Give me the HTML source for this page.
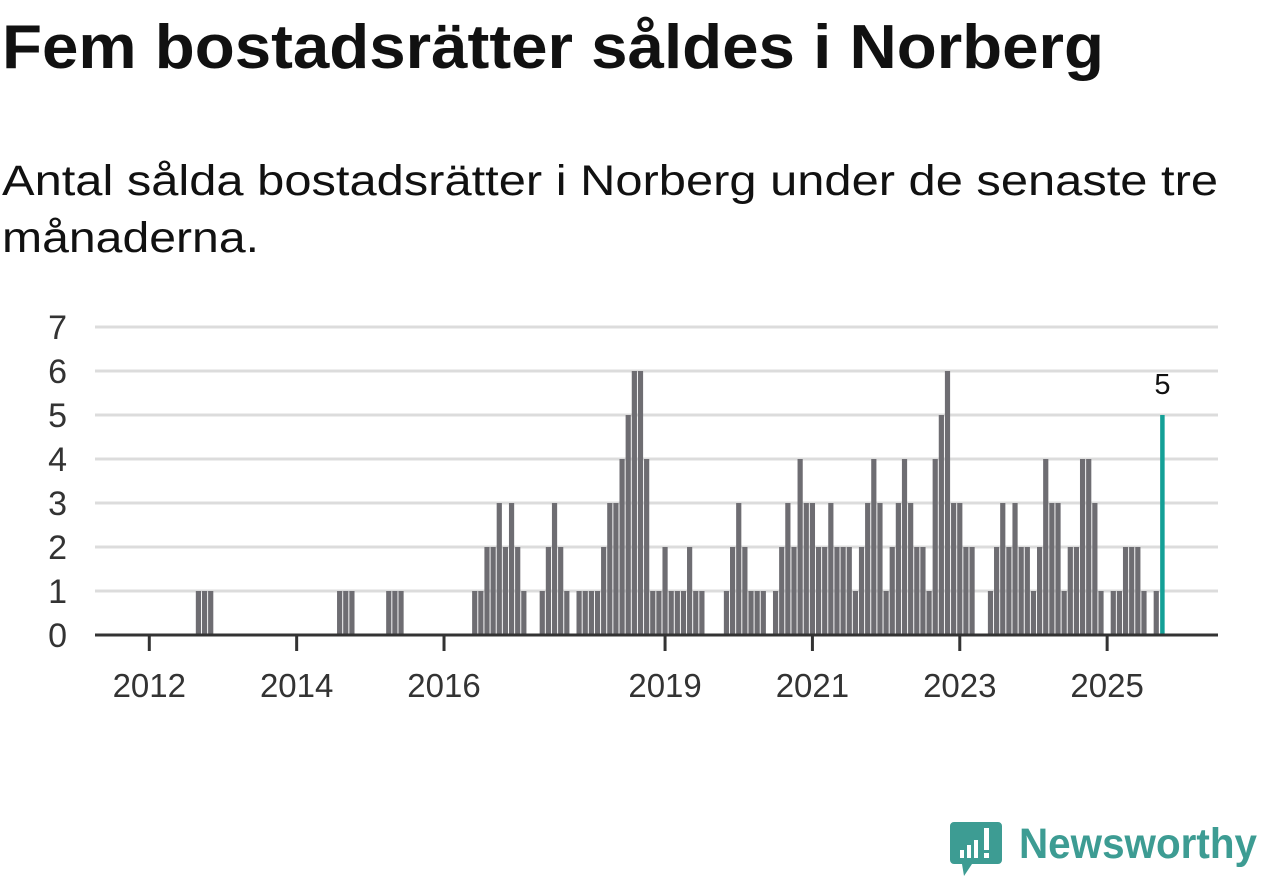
<!DOCTYPE html>
<html><head><meta charset="utf-8"><style>
html,body{margin:0;padding:0;background:#fff;width:1262px;height:879px;overflow:hidden}
svg{display:block;font-family:"Liberation Sans",sans-serif}
</style></head><body>
<svg id="chart" width="1262" height="879">
<text x="2" y="68" font-size="62" font-weight="bold" fill="#111" textLength="1102" lengthAdjust="spacingAndGlyphs">Fem bostadsrätter såldes i Norberg</text>
<text x="2" y="195" font-size="43" fill="#111" textLength="1216" lengthAdjust="spacingAndGlyphs">Antal sålda bostadsrätter i Norberg under de senaste tre</text>
<text x="2" y="252" font-size="43" fill="#111" textLength="257" lengthAdjust="spacingAndGlyphs">månaderna.</text>
<g id="grid"></g><g id="bars"></g><g id="axis"></g>
<g>
<path d="M954 822 h44 a4 4 0 0 1 4 4 v34 a4 4 0 0 1 -4 4 h-26 l-8 12 l-2 -12 h-8 a4 4 0 0 1 -4 -4 v-34 a4 4 0 0 1 4 -4z" fill="#3d9c93"/>
<rect x="960" y="850" width="4" height="8" fill="#fff"/><rect x="967" y="845" width="4" height="13" fill="#fff"/><rect x="974" y="840" width="4" height="18" fill="#fff"/><rect x="984" y="828" width="5" height="22" fill="#fff"/><rect x="984" y="853" width="5" height="5" fill="#fff"/>
<text x="1019" y="858" font-size="43" font-weight="bold" fill="#3d9c93" textLength="238" lengthAdjust="spacingAndGlyphs">Newsworthy</text>
</g>
</svg>
<script>
const startYear = 2012;
const values = [
0,0,0,0,0,0,0,0,1,1,1,0,
0,0,0,0,0,0,0,0,0,0,0,0,
0,0,0,0,0,0,0,1,1,1,0,0,
0,0,0,1,1,1,0,0,0,0,0,0,
0,0,0,0,0,1,1,2,2,3,2,3,
2,1,0,0,1,2,3,2,1,0,1,1,
1,1,2,3,3,4,5,6,6,4,1,1,
2,1,1,1,2,1,1,0,0,0,1,2,
3,2,1,1,1,0,1,2,3,2,4,3,
3,2,2,3,2,2,2,1,2,3,4,3,
1,2,3,4,3,2,2,1,4,5,6,3,
3,2,2,0,0,1,2,3,2,3,2,2,
1,2,4,3,3,1,2,2,4,4,3,1,
0,1,1,2,2,2,1,0,1,5];
const yTicks = [0,1,2,3,4,5,6,7];
const xTickYears = [2012,2014,2016,2019,2021,2023,2025];
const NS='http://www.w3.org/2000/svg';
const x0=149.3, mw=6.14, y0=635, unit=44;
const xOf = m => x0 + mw*m;
const yOf = v => y0 - unit*v;
function mk(tag, attrs, parent){const e=document.createElementNS(NS,tag);for(const k in attrs)e.setAttribute(k,attrs[k]);parent.appendChild(e);return e;}
const grid=document.getElementById('grid'), bars=document.getElementById('bars'), axis=document.getElementById('axis');
yTicks.forEach(t=>{
  if(t>0){const l=mk('line',{x1:95,x2:1218,y1:yOf(t),y2:yOf(t),stroke:'#dcdcdc','stroke-width':3},grid);
  
  }
  const tx=mk('text',{x:67,y:yOf(t)+12,'font-size':34,fill:'#333','text-anchor':'end'},grid);
  tx.textContent=t;
  
  
});
const last=values.length-1;
values.forEach((v,m)=>{
  if(v<=0)return;
  const isLast=m===last;
  const w=isLast?4.5:5.2;
  const r=mk('rect',{x:xOf(m)-w/2,y:yOf(v),width:w,height:unit*v,fill:isLast?'#14a097':'#6e6d72'},bars);
  
  
});
const lab=mk('text',{x:xOf(last),y:yOf(values[last])-21,'font-size':29,fill:'#111','text-anchor':'middle'},bars);
lab.textContent=values[last];


const ax=mk('line',{x1:95,x2:1218,y1:y0,y2:y0,stroke:'#333','stroke-width':3},axis);


xTickYears.forEach(yr=>{
  const x=xOf((yr-startYear)*12);
  const t=mk('line',{x1:x,x2:x,y1:y0,y2:y0+16,stroke:'#333','stroke-width':3},axis);
  
  
  const tx=mk('text',{x:x,y:697,'font-size':33,fill:'#333','text-anchor':'middle'},axis);
  tx.textContent=yr;
  
  
});
</script>
</body></html>
